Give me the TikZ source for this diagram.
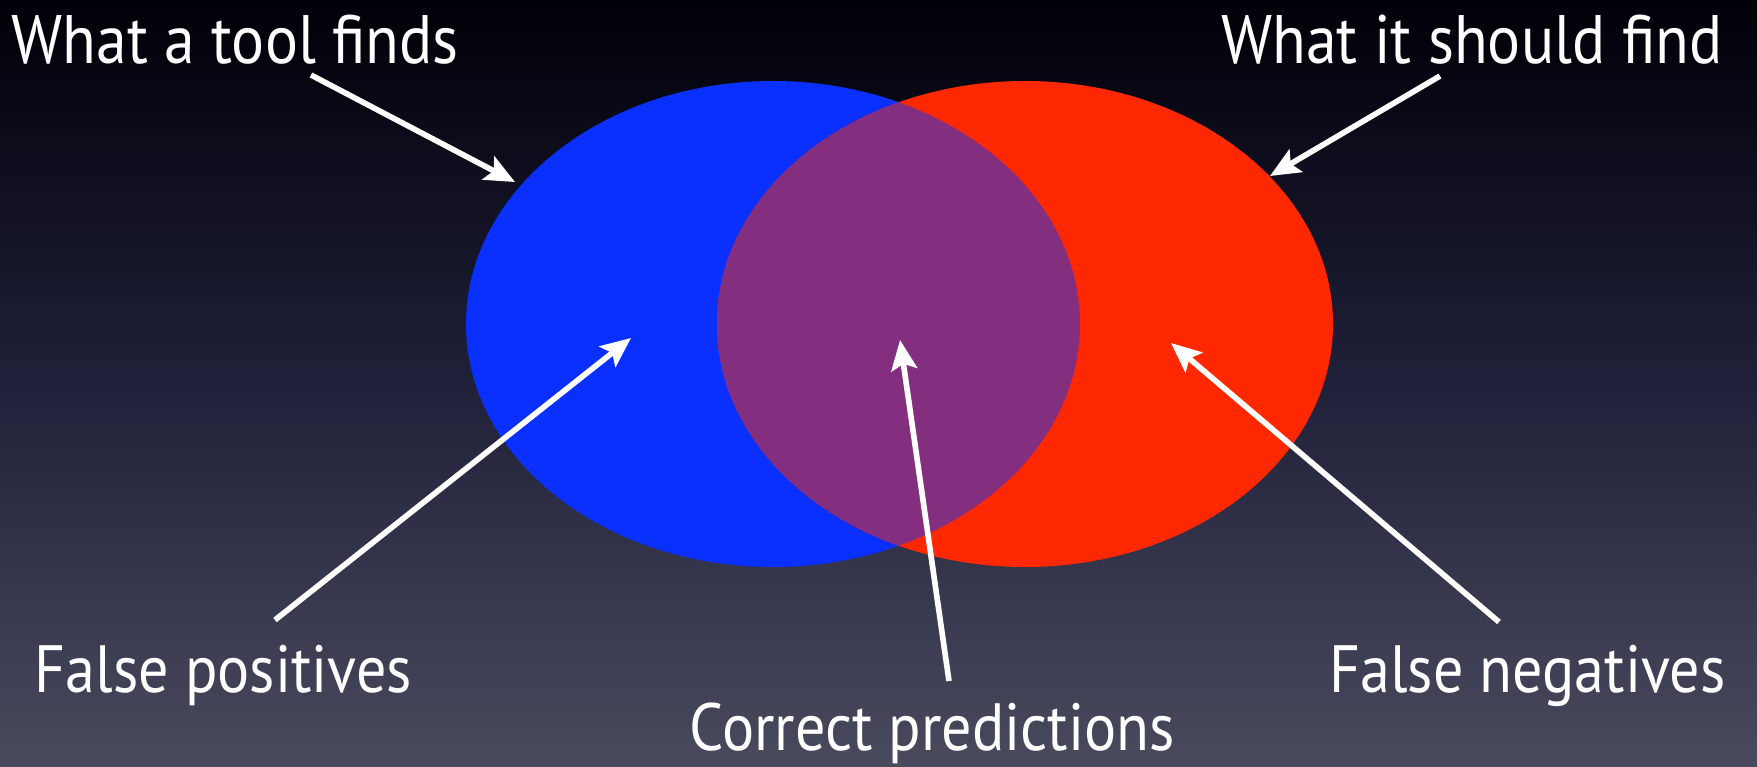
\documentclass[tikz,border=0pt]{standalone}
\usepackage{fontspec}
\setmainfont{PT Sans}[FakeStretch=0.9]
\usetikzlibrary{arrows.meta, positioning}
\definecolor{night}{HTML}{000008}
\definecolor{dusk}{HTML}{4A4A5E}
\definecolor{dusk2}{HTML}{20203A}
\definecolor{toolblue}{HTML}{0A30FF}
\definecolor{truered}{HTML}{FF2800}
\definecolor{hitpurple}{HTML}{842E80}
\begin{document}
\begin{tikzpicture}[x=0.01cm, y=-0.01cm,
   lbl/.style={text=white, inner sep=0pt, font=\fontsize{19.5}{23}\selectfont},
   ar/.style={-{Stealth[length=3mm, width=2.6mm, inset=0.6mm]}, line width=1.6pt, draw=white}]
 \useasboundingbox (0,0) rectangle (1757,767);
 \shade[top color=night, bottom color=dusk, middle color=dusk2] (0,0) rectangle (1757,767);
 % the two sets
 \fill[toolblue] (773,324) ellipse [x radius=307, y radius=243];
 \fill[truered] (1025,324) ellipse [x radius=308, y radius=243];
 \begin{scope}
  \clip (773,324) ellipse [x radius=307, y radius=243];
  \fill[hitpurple] (1025,324) ellipse [x radius=308, y radius=243];
 \end{scope}
 % labels
 \node[lbl, anchor=base west] (found) at (11,64) {What a tool finds};
 \node[lbl, anchor=base east] (should) at (1723,64) {What it should find};
 \node[lbl, anchor=base west, font=\fontsize{19}{23}\selectfont] (fp) at (34,692) {False positives};
 \node[lbl, anchor=base west, font=\fontsize{19}{23}\selectfont] (cp) at (689,750) {Correct predictions};
 \node[lbl, anchor=base east, font=\fontsize{19}{23}\selectfont] (fn) at (1726,692) {False negatives};
 % arrow ends
 \coordinate (foundtail) at (311,75);   \coordinate (foundtip) at (515,182);
 \coordinate (shouldtail) at (1440,76); \coordinate (shouldtip) at (1270,176);
 \coordinate (fptail) at (275,620);     \coordinate (fptip) at (631,338);
 \coordinate (cptail) at (949,681);     \coordinate (cptip) at (900,340);
 \coordinate (fntail) at (1499,622);    \coordinate (fntip) at (1171,343);
 \draw[ar] (foundtail)--(foundtip); \draw[ar] (shouldtail)--(shouldtip);
 \draw[ar] (fptail)--(fptip); \draw[ar] (cptail)--(cptip); \draw[ar] (fntail)--(fntip);
\end{tikzpicture}
\end{document}
